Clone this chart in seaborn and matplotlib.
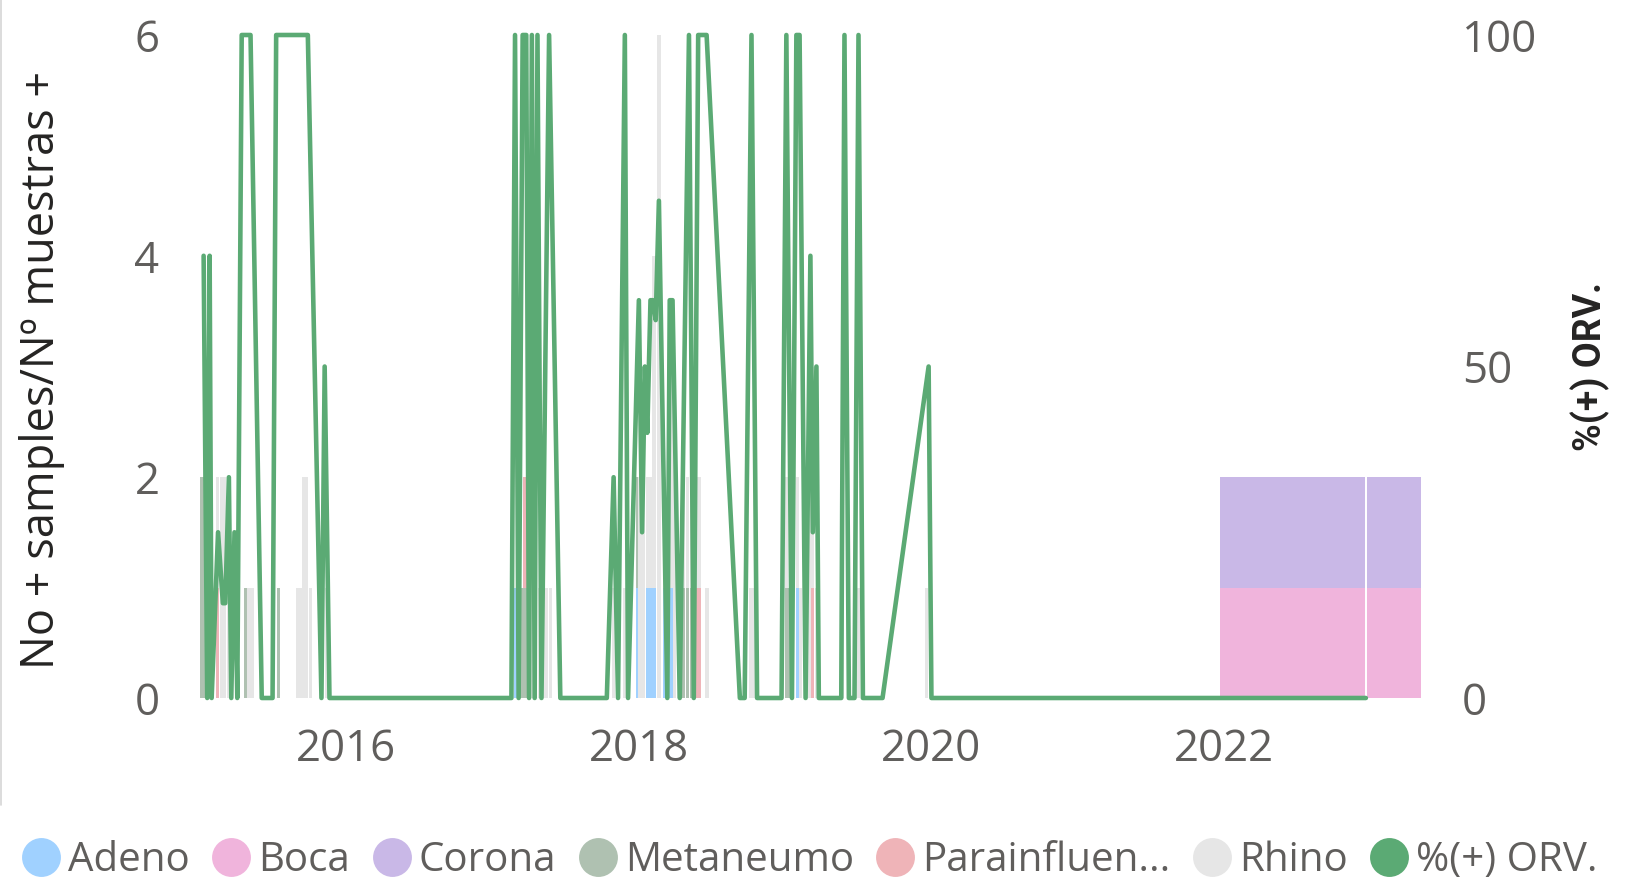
import numpy as np
import pandas as pd
import seaborn as sns
import matplotlib.pyplot as plt
import matplotlib.dates as mdates
from matplotlib.lines import Line2D

# ==========================================
# DATA
# ==========================================
# weekly positive samples per virus (stacked bars)
bar_dates = [
    '2015-01-07', '2015-01-15', '2015-01-25', '2015-02-02', '2015-02-14', '2015-02-24',
    '2015-03-04', '2015-03-14', '2015-04-26', '2015-05-04', '2015-05-13', '2015-07-17',
    '2015-09-03', '2015-09-10', '2015-09-18', '2015-09-25', '2015-10-04', '2015-11-13',
    '2017-02-28', '2017-03-07', '2017-03-14', '2017-03-23', '2017-04-01', '2017-04-11',
    '2017-04-19', '2017-04-29', '2017-05-07', '2017-05-16', '2017-05-25',
    '2017-10-30', '2017-11-10', '2017-11-26', '2017-12-28', '2018-01-04', '2018-01-12',
    '2018-01-22', '2018-01-29', '2018-02-08', '2018-02-20', '2018-03-06', '2018-03-15',
    '2018-03-22', '2018-03-31', '2018-04-10', '2018-04-22', '2018-05-02', '2018-05-12',
    '2018-05-21', '2018-05-31', '2018-06-20',
    '2018-10-07', '2018-10-14', '2019-01-04', '2019-01-11', '2019-01-19', '2019-01-31',
    '2019-02-08', '2019-03-03', '2019-03-11', '2019-03-20', '2019-05-25', '2019-07-02',
    '2019-12-20',
]
adeno = [0, 0, 1, 0, 0, 0, 0, 0, 0, 0, 0, 0, 0, 0, 0, 0, 0, 0,
         1, 0, 0, 0, 0, 0, 0, 0, 0, 0, 0,
         0, 0, 0, 1, 0, 0, 1, 1, 1, 0, 1, 1, 1, 0, 0, 0, 0, 0, 0, 0, 0,
         0, 0, 0, 0, 0, 1, 0, 0, 0, 0, 0, 0, 0]
boca = [0] * len(bar_dates)
corona = [0] * len(bar_dates)
metaneumo = [2, 2, 1, 0, 0, 0, 0, 0, 1, 0, 0, 1, 0, 0, 0, 0, 0, 0,
             0, 1, 1, 1, 0, 0, 0, 0, 0, 0, 0,
             0, 0, 0, 1, 0, 0, 0, 0, 0, 0, 0, 0, 0, 0, 0, 1, 1, 1, 0, 0, 0,
             0, 0, 1, 1, 1, 0, 0, 0, 0, 0, 0, 0, 0]
parainfluenza = [0, 0, 0, 0, 1, 0, 0, 0, 0, 0, 0, 0, 0, 0, 0, 0, 0, 0,
                 0, 0, 0, 1, 0, 0, 0, 0, 0, 0, 0,
                 0, 0, 0, 0, 0, 0, 0, 0, 0, 0, 0, 0, 0, 0, 0, 0, 0, 0, 1, 1, 0,
                 0, 0, 0, 0, 0, 0, 0, 0, 1, 0, 0, 0, 0]
rhino = [0, 0, 0, 1, 1, 2, 2, 2, 0, 1, 1, 0, 1, 1, 2, 2, 1, 1,
         0, 0, 0, 0, 3, 3, 1, 1, 1, 1, 1,
         1, 1, 1, 0, 2, 2, 1, 1, 3, 6, 1, 2, 2, 3, 1, 1, 1, 1, 1, 1, 1,
         1, 1, 1, 0, 0, 1, 1, 4, 2, 1, 1, 1, 1]

# the two last records cover long periods
period_start = ['2021-12-21', '2022-12-22']
period_end = ['2022-12-17', '2023-05-06']
period_boca = [1, 1]
period_corona = [1, 1]

# % of positive samples (right axis)
pct_dates = [
    '2015-01-11', '2015-01-20', '2015-01-26', '2015-01-31', '2015-02-16', '2015-02-28',
    '2015-03-06', '2015-03-15', '2015-03-21', '2015-03-29', '2015-04-05', '2015-04-16',
    '2015-05-08', '2015-06-05', '2015-07-02', '2015-07-11', '2015-09-28', '2015-11-01',
    '2015-11-09', '2015-11-21',
    '2017-02-17', '2017-02-26', '2017-03-07', '2017-03-17', '2017-03-26', '2017-04-02',
    '2017-04-09', '2017-04-16', '2017-04-23', '2017-05-03', '2017-05-22', '2017-06-19',
    '2017-10-13', '2017-10-30', '2017-11-10', '2017-11-27', '2017-12-05',
    '2018-01-01', '2018-01-09', '2018-01-16', '2018-01-22', '2018-01-30', '2018-02-05',
    '2018-02-12', '2018-02-20', '2018-03-13', '2018-03-19', '2018-03-26', '2018-04-13',
    '2018-05-06', '2018-05-18', '2018-05-29', '2018-06-19', '2018-09-10', '2018-09-22',
    '2018-10-09', '2018-10-23', '2018-12-23',
    '2019-01-04', '2019-01-18', '2019-01-29', '2019-02-06', '2019-02-21', '2019-03-05',
    '2019-03-11', '2019-03-20', '2019-03-26', '2019-05-21', '2019-05-29', '2019-06-09',
    '2019-06-23', '2019-07-03', '2019-07-14', '2019-09-01', '2019-12-25', '2020-01-01',
    '2022-12-20',
]
pct_orv = [
    66.7, 0, 66.7, 0, 25, 14.3, 14.3, 33.3, 0, 25, 0, 100,
    100, 0, 0, 100, 100, 0, 50, 0,
    0, 100, 0, 100, 100, 0, 100, 0, 100, 0, 100, 0,
    0, 33.3, 0, 100, 0,
    60, 25, 50, 40, 60, 60, 57, 75, 0, 60, 60, 0,
    100, 0, 100, 100, 0, 0, 100, 0, 0,
    100, 0, 100, 100, 0, 66.7, 25, 50, 0, 0, 100, 0,
    0, 100, 0, 0, 50, 0, 0,
]

virus_labels = ['Adeno', 'Boca', 'Corona', 'Metaneumo', 'Parainfluen...', 'Rhino']
virus_colors = ['#A0D1FF', '#F0B4DC', '#C9B8E7', '#AFC1B1', '#EFB4B8', '#E6E6E6']
line_color = '#5BAA74'
grey_text = '#605E5C'

# ==========================================
# PLOT
# ==========================================
sns.set_theme(style='white')
plt.rcParams['font.family'] = ['Open Sans', 'DejaVu Sans']

fig = plt.figure(figsize=(16.45, 8.83), dpi=100)
ax = fig.add_axes([190 / 1645, 185 / 883, 1240 / 1645, 663 / 883])

counts = pd.DataFrame({'date': pd.to_datetime(bar_dates), 'Adeno': adeno, 'Boca': boca,
                       'Corona': corona, 'Metaneumo': metaneumo,
                       'Parainfluenza': parainfluenza, 'Rhino': rhino})
x = mdates.date2num(counts['date'])
bottom = np.zeros(len(counts))
for name, col in zip(['Adeno', 'Boca', 'Corona', 'Metaneumo', 'Parainfluenza', 'Rhino'], virus_colors):
    ax.bar(x, counts[name], width=8, bottom=bottom, color=col, linewidth=0)
    bottom += counts[name].values

p0 = mdates.date2num(pd.to_datetime(period_start))
p1 = mdates.date2num(pd.to_datetime(period_end))
ax.bar(p0, period_boca, width=p1 - p0, align='edge', color=virus_colors[1], linewidth=0)
ax.bar(p0, period_corona, width=p1 - p0, bottom=period_boca, align='edge',
       color=virus_colors[2], linewidth=0)

ax2 = ax.twinx()
line_df = pd.DataFrame({'date': pd.to_datetime(pct_dates), 'pct': pct_orv})
sns.lineplot(data=line_df, x='date', y='pct', ax=ax2, color=line_color, linewidth=3.3,
             clip_on=False, solid_joinstyle='round', solid_capstyle='round')

ax.set_xlim(mdates.date2num(pd.Timestamp('2014-12-08')), mdates.date2num(pd.Timestamp('2023-05-29')))
ax.set_ylim(0, 6)
ax2.set_ylim(0, 100)
ax.set_yticks([0, 2, 4, 6])
ax2.set_yticks([0, 50, 100])
ax.xaxis.set_major_locator(mdates.YearLocator(2))
ax.xaxis.set_major_formatter(mdates.DateFormatter('%Y'))
ax.set_xlabel('')
ax2.set_xlabel('')
ax.set_ylabel('')
ax2.set_ylabel('')
ax.grid(False)
ax2.grid(False)
sns.despine(ax=ax, left=True, bottom=True)
sns.despine(ax=ax2, left=True, bottom=True, right=True)

ax.tick_params(axis='x', length=0, pad=21, labelsize=31.5, labelcolor=grey_text)
ax.tick_params(axis='y', length=0, pad=22, labelsize=31.5, labelcolor=grey_text)
ax2.tick_params(axis='y', length=0, pad=23, labelsize=31.5, labelcolor=grey_text)

fig.text(42 / 1645, 1 - 370 / 883, 'No + samples/Nº muestras +', rotation=90,
         ha='center', va='center', fontsize=32.5, color='#252423')
fig.text(1590 / 1645, 1 - 366 / 883, '%(+) ORV.', rotation=90, ha='center', va='center',
         fontsize=27, fontweight='bold', color='#252423', family=['Roboto', 'DejaVu Sans'])

handles = [Line2D([], [], marker='o', linestyle='none', markersize=28,
                  markerfacecolor=c, markeredgewidth=0) for c in virus_colors + [line_color]]
fig.legend(handles, virus_labels + ['%(+) ORV.'], ncol=7, loc='center left',
           bbox_to_anchor=(22 / 1645, 22 / 883), frameon=False, fontsize=29,
           labelcolor=grey_text, handlelength=0.95, handletextpad=0.2,
           columnspacing=0.55, borderpad=0, borderaxespad=0)

fig.add_artist(Line2D([0.0006, 0.0006], [78 / 883, 1], color='#D6D6D6', lw=1.2))

fig.savefig('out.png', dpi=100)
